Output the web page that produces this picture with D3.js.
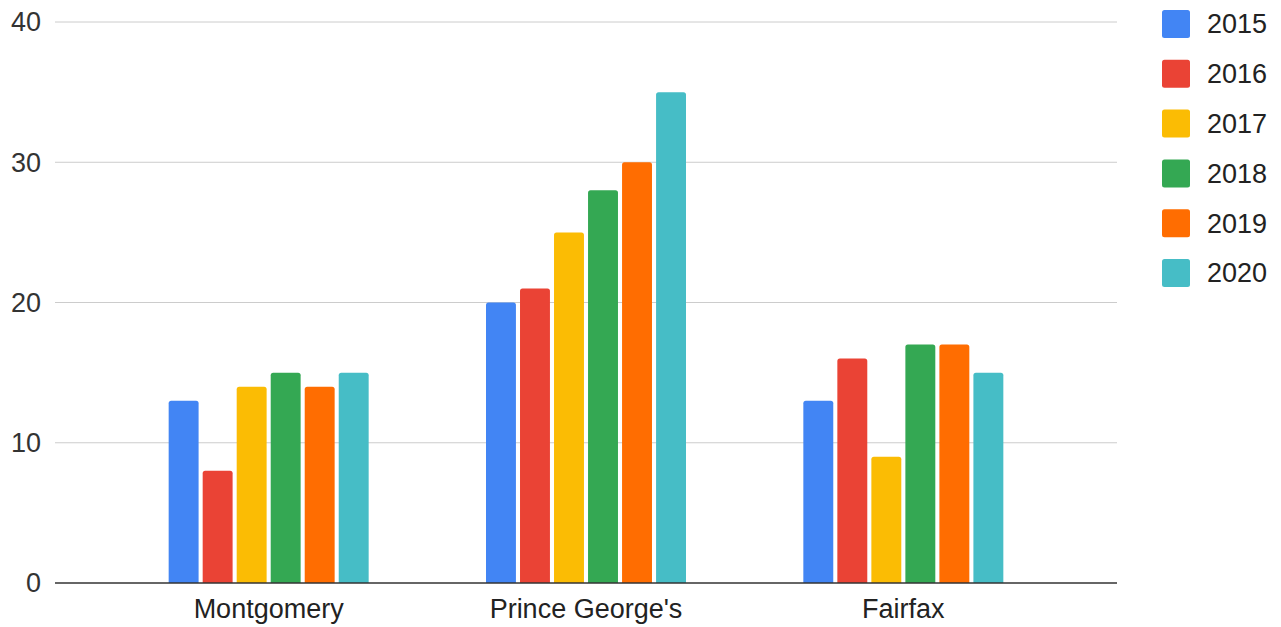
<!DOCTYPE html>
<html>
<head>
<meta charset="utf-8">
<script src="https://cdn.jsdelivr.net/npm/d3@7"></script>
<style>
  body { margin: 0; background: #fff; }
  text { font-family: "Liberation Sans", Arial, sans-serif; }
</style>
</head>
<body>
<svg id="mainsvg" width="1281" height="627"></svg>
<script>
const counties = ["Montgomery", "Prince George's", "Fairfax"];
const years = ["2015", "2016", "2017", "2018", "2019", "2020"];
const colors = ["#4285F4", "#EA4335", "#FBBC04", "#34A853", "#FF6D01", "#46BDC6"];
const montgomery = [13, 8, 14, 15, 14, 15];
const princeGeorges = [20, 21, 25, 28, 30, 35];
const fairfax = [13, 16, 9, 17, 17, 15];
const yTicks = [0, 10, 20, 30, 40];

const seriesByCounty = [montgomery, princeGeorges, fairfax];

const svg = d3.select('#mainsvg');
const plotLeft = 55, plotRight = 1117;
const plotTop = 22, plotBottom = 583;

const yScale = d3.scaleLinear().domain([0, 40]).range([plotBottom, plotTop]);

const x0 = d3.scaleBand().domain(counties).range([110, 1062]).padding(0);
const groupHalf = 100;
const x1 = d3.scaleBand().domain(years)
    .range([x0.bandwidth() / 2 - groupHalf, x0.bandwidth() / 2 + groupHalf])
    .paddingInner(0.12);

// gridlines
svg.append('g').selectAll('line')
    .data(yTicks.filter(t => t !== 0))
    .join('line')
    .attr('x1', plotLeft).attr('x2', plotRight)
    .attr('y1', d => yScale(d)).attr('y2', d => yScale(d))
    .attr('stroke', '#cccccc').attr('stroke-width', 1);

// y tick labels
svg.append('g').selectAll('text')
    .data(yTicks)
    .join('text')
    .attr('x', 41)
    .attr('y', d => yScale(d))
    .attr('dy', '0.35em')
    .attr('text-anchor', 'end')
    .style('font-size', '27px')
    .attr('fill', '#333')
    .text(d => d);

// bars
const groups = svg.append('g').selectAll('g')
    .data(counties)
    .join('g')
    .attr('transform', d => `translate(${x0(d)},0)`);

groups.selectAll('path')
    .data((d, i) => seriesByCounty[i].map((v, j) => ({year: years[j], value: v, color: colors[j]})))
    .join('path')
    .attr('d', d => {
        const x = x1(d.year), w = x1.bandwidth();
        const y = yScale(d.value), r = 2.5;
        return `M${x},${plotBottom}V${y + r}Q${x},${y} ${x + r},${y}H${x + w - r}Q${x + w},${y} ${x + w},${y + r}V${plotBottom}Z`;
    })
    .attr('fill', d => d.color);

// baseline
svg.append('line')
    .attr('x1', plotLeft).attr('x2', plotRight)
    .attr('y1', plotBottom).attr('y2', plotBottom)
    .attr('stroke', '#333').attr('stroke-width', 1.5);

// x labels
svg.append('g').selectAll('text')
    .data(counties)
    .join('text')
    .attr('x', d => x0(d) + x0.bandwidth() / 2)
    .attr('y', 618)
    .attr('text-anchor', 'middle')
    .style('font-size', '27px')
    .attr('fill', '#222')
    .text(d => d);

// legend
const legendItems = svg.append('g').selectAll('g')
    .data(years)
    .join('g')
    .attr('transform', (d, i) => `translate(1162, ${10 + i * 49.8})`);

legendItems.append('rect')
    .attr('width', 28).attr('height', 28)
    .attr('rx', 2.5)
    .attr('fill', (d, i) => colors[i]);

legendItems.append('text')
    .attr('x', 45)
    .attr('y', 14)
    .attr('dy', '0.35em')
    .style('font-size', '27px')
    .attr('fill', '#222')
    .text(d => d);
</script>
</body>
</html>
